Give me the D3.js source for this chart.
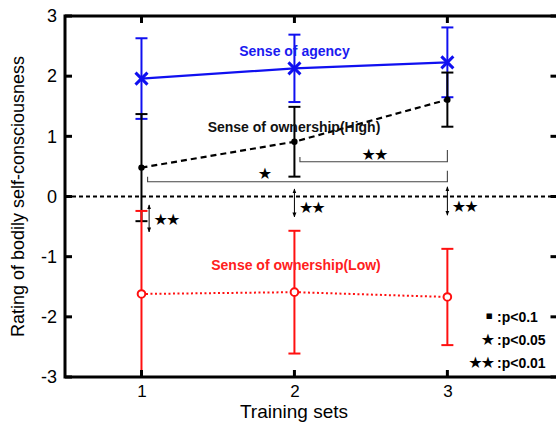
<!DOCTYPE html>
<html><head><meta charset="utf-8">
<script src="https://cdn.jsdelivr.net/npm/d3@7"></script>
<style>
body{margin:0;background:#fff;}
svg{display:block;font-family:"Liberation Sans",Arial,Helvetica,sans-serif;}
</style></head>
<body><svg id="c" width="556" height="423"></svg>
<script>
const sets = [1, 2, 3];
const agencyMean = [1.96, 2.13, 2.23];
const agencyErr  = [0.67, 0.56, 0.58];
const ownHighMean = [0.48, 0.91, 1.61];
const ownHighErr  = [0.89, 0.58, 0.45];
const ownLowMean = [-1.62, -1.59, -1.67];
const ownLowErr  = [1.38, 1.02, 0.80];
const yTicks = [-3, -2, -1, 0, 1, 2, 3];
const xTicks = [1, 2, 3];

const svg = d3.select("#c");
const x = d3.scaleLinear().domain([0.5, 3.72]).range([65, 557.5]);
const y = d3.scaleLinear().domain([-3, 3]).range([377, 16]);

svg.append("defs").append("marker").attr("id","ah").attr("viewBox","0 0 10 10")
  .attr("refX",9).attr("refY",5).attr("markerWidth",5).attr("markerHeight",5)
  .attr("orient","auto-start-reverse").append("path").attr("d","M0,1 L10,5 L0,9 Z").attr("fill","#000");

// zero line
svg.append("line").attr("x1",x(0.5)).attr("x2",x(3.72)).attr("y1",y(0)).attr("y2",y(0))
  .attr("stroke","#000").attr("stroke-width",1.8).attr("stroke-dasharray","4,3");

function errBars(means, errs, color){
  const g = svg.append("g").attr("stroke",color).attr("stroke-width",2).attr("fill","none");
  sets.forEach((s,i)=>{
    const lo = means[i]-errs[i], hi = means[i]+errs[i];
    g.append("line").attr("x1",x(s)).attr("x2",x(s)).attr("y1",y(lo)).attr("y2",y(hi));
    g.append("line").attr("x1",x(s)-6).attr("x2",x(s)+6).attr("y1",y(lo)).attr("y2",y(lo));
    g.append("line").attr("x1",x(s)-6).attr("x2",x(s)+6).attr("y1",y(hi)).attr("y2",y(hi));
  });
}
errBars(agencyMean, agencyErr, "#1010f0");
errBars(ownHighMean, ownHighErr, "#000");
errBars(ownLowMean, ownLowErr, "#ff1010");

const line = d3.line().x((d,i)=>x(sets[i])).y(d=>y(d));
svg.append("path").attr("d",line(agencyMean)).attr("fill","none").attr("stroke","#1010f0").attr("stroke-width",2.2);
svg.append("path").attr("d",line(ownHighMean)).attr("fill","none").attr("stroke","#000").attr("stroke-width",2.2).attr("stroke-dasharray","6,4");
svg.append("path").attr("d",line(ownLowMean)).attr("fill","none").attr("stroke","#ff1010").attr("stroke-width",2).attr("stroke-dasharray","2,2.5");

// markers
agencyMean.forEach((v,i)=>{
  const cx=x(sets[i]), cy=y(v), r=6;
  svg.append("path").attr("d",`M${cx-r},${cy-r}L${cx+r},${cy+r}M${cx-r},${cy+r}L${cx+r},${cy-r}`)
    .attr("stroke","#1010f0").attr("stroke-width",3);
});
ownHighMean.forEach((v,i)=>{
  svg.append("circle").attr("cx",x(sets[i])).attr("cy",y(v)).attr("r",3.2).attr("fill","#000");
});
ownLowMean.forEach((v,i)=>{
  svg.append("circle").attr("cx",x(sets[i])).attr("cy",y(v)).attr("r",3.8).attr("fill","#fff").attr("stroke","#ff1010").attr("stroke-width",2);
});

// series labels
const lab = svg.append("g").attr("font-weight","bold").attr("font-size",14).attr("text-anchor","middle");
lab.append("text").attr("x",x(2)).attr("y",56).attr("fill","#1a1af0").text("Sense of agency");
lab.append("text").attr("x",294).attr("y",131.5).attr("fill","#111").text("Sense of ownership(High)");
lab.append("text").attr("x",296).attr("y",270).attr("fill","#ff2020").text("Sense of ownership(Low)");

// brackets
const brackets = [
  {x1:2.036, yh:0.656, yb:0.578, x2:3.0, yt:0.773},
  {x1:1.04, yh:0.33, yb:0.246, x2:3.0, yt:0.43}
];
brackets.forEach(b=>{
  svg.append("path").attr("d",`M${x(b.x1)},${y(b.yh)}L${x(b.x1)},${y(b.yb)}L${x(b.x2)},${y(b.yb)}L${x(b.x2)},${y(b.yt)}`)
    .attr("fill","none").attr("stroke","#444").attr("stroke-width",1.1);
});
const starFont = "'DejaVu Sans',sans-serif";
const stars = [
  {x:2.52, y:0.70, t:"★★"},
  {x:1.80, y:0.38, t:"★"},
  {x:1.16, y:-0.37, t:"★★"},
  {x:2.11, y:-0.18, t:"★★"},
  {x:3.11, y:-0.17, t:"★★"}
];
stars.forEach(s=>{
  svg.append("text").attr("x",x(s.x)).attr("y",y(s.y)).attr("dy","0.36em").attr("text-anchor","middle")
    .attr("font-family",starFont).attr("font-size",16).attr("letter-spacing",-2).attr("fill","#000").text(s.t);
});
// double arrows
const arrows = [
  {x:1.05, y1:-0.14, y2:-0.59},
  {x:2.0, y1:0.125, y2:-0.34},
  {x:3.0, y1:0.16, y2:-0.31}
];
arrows.forEach(a=>{
  svg.append("line").attr("x1",x(a.x)).attr("x2",x(a.x)).attr("y1",y(a.y1)).attr("y2",y(a.y2))
    .attr("stroke","#000").attr("stroke-width",1).attr("marker-start","url(#ah)").attr("marker-end","url(#ah)");
});

// significance legend
const leg = [
  {sym:"▪", txt:":p<0.1", by:322, fs:11, dy:-3, sx:491},
  {sym:"★", txt:":p<0.05", by:345, fs:16, dy:0, sx:493},
  {sym:"★★", txt:":p<0.01", by:368, fs:16, dy:0, sx:493}
];
leg.forEach(l=>{
  svg.append("text").attr("x",l.sx).attr("y",l.by+l.dy).attr("text-anchor","end").attr("font-family",starFont)
    .attr("font-size",l.fs).attr("letter-spacing",-2).text(l.sym);
  svg.append("text").attr("x",497).attr("y",l.by).attr("font-weight","bold").attr("font-size",14).text(l.txt);
});

// axes
const fmt = d => String(d);
const ax = svg.append("g");
ax.append("g").attr("transform",`translate(${x(0.5)},0)`)
  .call(d3.axisLeft(y).tickValues(yTicks).tickFormat(fmt).tickSize(0).tickPadding(8))
  .call(g=>g.select(".domain").remove())
  .call(g=>g.selectAll("text").attr("font-size",18).attr("font-family","'Liberation Sans',Arial,sans-serif").attr("fill","#000"));
ax.append("g").attr("transform",`translate(0,${y(-3)})`)
  .call(d3.axisBottom(x).tickValues(xTicks).tickFormat(fmt).tickSize(0).tickPadding(8))
  .call(g=>g.select(".domain").remove())
  .call(g=>g.selectAll("text").attr("font-size",17).attr("font-family","'Liberation Sans',Arial,sans-serif").attr("fill","#000"));
// inward ticks
const tk = ax.append("g").attr("stroke","#000").attr("stroke-width",3);
yTicks.forEach(t=>{
  tk.append("line").attr("x1",x(0.5)).attr("x2",x(0.5)+7).attr("y1",y(t)).attr("y2",y(t));
  tk.append("line").attr("x1",x(3.72)).attr("x2",x(3.72)-7).attr("y1",y(t)).attr("y2",y(t));
});
xTicks.forEach(t=>{
  tk.append("line").attr("x1",x(t)).attr("x2",x(t)).attr("y1",y(-3)).attr("y2",y(-3)-7);
  tk.append("line").attr("x1",x(t)).attr("x2",x(t)).attr("y1",y(3)).attr("y2",y(3)+7);
});
ax.append("rect").attr("x",x(0.5)).attr("y",y(3)).attr("width",x(3.72)-x(0.5)).attr("height",y(-3)-y(3))
  .attr("fill","none").attr("stroke","#000").attr("stroke-width",3);

svg.append("text").attr("x",294).attr("y",418).attr("text-anchor","middle").attr("font-size",19).text("Training sets");
svg.append("text").attr("transform",`translate(24,${(y(3)+y(-3))/2}) rotate(-90)`).attr("text-anchor","middle")
  .attr("font-size",18).text("Rating of bodily self-consciousness");
</script></body></html>
